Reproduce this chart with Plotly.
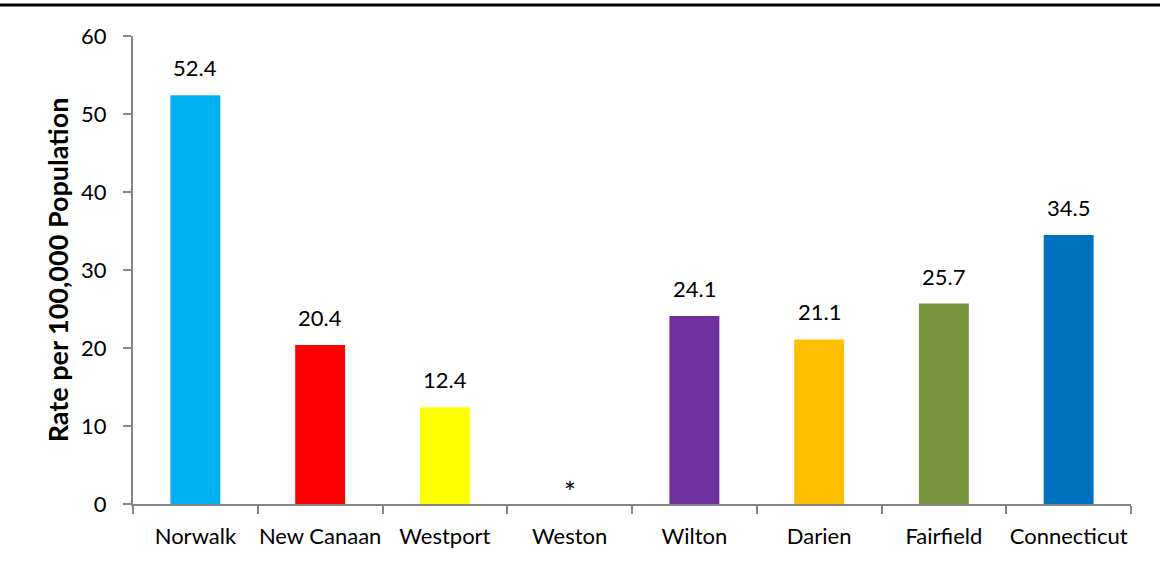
import plotly.graph_objects as go

# Chart data
towns = ['Norwalk', 'New Canaan', 'Westport', 'Weston', 'Wilton', 'Darien', 'Fairfield', 'Connecticut']
rates = [52.4, 20.4, 12.4, 0, 24.1, 21.1, 25.7, 34.5]
rate_labels = ['52.4', '20.4', '12.4', '*', '24.1', '21.1', '25.7', '34.5']
bar_colors = ['#00B0F0', '#FF0000', '#FFFF00', '#FFFFFF', '#7030A0', '#FFC000', '#77933C', '#0070C0']

font_name = 'Lato'

fig = go.Figure()
fig.add_trace(go.Bar(x=towns, y=rates, marker=dict(color=bar_colors, line=dict(width=0)),
                     width=0.4, hoverinfo='x+y'))

# Data labels above each bar (the suppressed value gets a bigger, lower asterisk)
for town, rate, lab in zip(towns, rates, rate_labels):
    if lab == '*':
        fig.add_annotation(x=town, y=rate, text=lab, showarrow=False, yanchor='bottom',
                           yshift=-7, font=dict(family=font_name, size=28, color='#000000'))
    else:
        fig.add_annotation(x=town, y=rate, text=lab, showarrow=False, yanchor='bottom',
                           yshift=12, font=dict(family=font_name, size=22, color='#000000'))

# Thick rule at the top of the page
fig.add_shape(type='line', xref='paper', yref='paper', x0=-0.2, x1=1.1,
              y0=1 + 31 / 468, y1=1 + 31 / 468, line=dict(color='#000000', width=3))

fig.update_layout(
    width=1160, height=564,
    margin=dict(l=133, r=29, t=36, b=60),
    plot_bgcolor='white', paper_bgcolor='white',
    showlegend=False, bargap=0.6,
    font=dict(family=font_name, size=22, color='#000000'),
)
fig.update_xaxes(showline=True, linecolor='#868686', linewidth=2, ticks='outside',
                 tickson='boundaries', ticklen=8, tickcolor='#868686', tickwidth=2,
                 tickangle=0, automargin=False,
                 ticklabelstandoff=12, tickfont=dict(family=font_name, size=22),
                 showgrid=False)
fig.update_yaxes(range=[0, 60], dtick=10, showline=True, linecolor='#868686', linewidth=2,
                 ticks='outside', ticklen=8, tickcolor='#868686', tickwidth=2,
                 ticklabelstandoff=12, tickfont=dict(family=font_name, size=22),
                 showgrid=False, zeroline=False, automargin=False,
                 title=dict(text='<b>Rate per 100,000 Population</b>', standoff=5,
                            font=dict(family=font_name, size=27)))

fig.write_html('out.html', config={'displayModeBar': False},
               post_script="document.body.style.margin='0px';")
